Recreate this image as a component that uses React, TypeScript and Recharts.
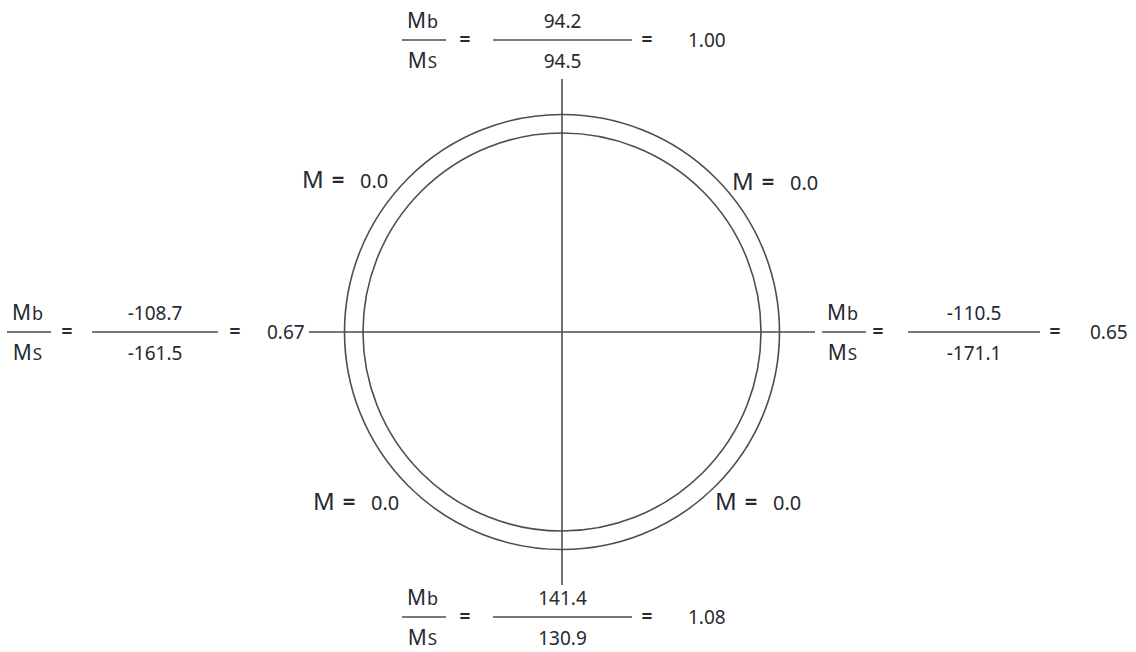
import { RadarChart, PolarGrid, Customized } from 'recharts';

// bending moment ratio at the four quadrant points of the pipe section
const sides = ['top', 'right', 'bottom', 'left'];
const mbValues = [94.2, -110.5, 141.4, -108.7];
const msValues = [94.5, -171.1, 130.9, -161.5];
const ratioValues = [1.0, 0.65, 1.08, 0.67];

// moments at the diagonal points
const corners = ['top-left', 'top-right', 'bottom-left', 'bottom-right'];
const cornerMoments = [0.0, 0.0, 0.0, 0.0];

const WIDTH = 1136;
const HEIGHT = 652;
const CX = 562;
const CY = 332;
const AXIS_REACH = 253;
const RING_RADII = [199, 217.5];
const CROSS_ANGLES = [0, 90, 180, 270];

const INK = '#262a31';
const LINE = '#4d4d4d';
const FONT = '"Noto Sans", "Open Sans", sans-serif';

const BLOCKS: Record<string, { x0: number; yc: number; eq1: number; l1: number; l2: number; eq2: number; rx: number }> = {
    top: { x0: 402, yc: 40, eq1: 465, l1: 493, l2: 632, eq2: 647, rx: 688 },
    bottom: { x0: 402, yc: 617, eq1: 465, l1: 493, l2: 632, eq2: 647, rx: 688 },
    left: { x0: 7, yc: 332, eq1: 67, l1: 92, l2: 218, eq2: 235, rx: 267 },
    right: { x0: 822, yc: 332, eq1: 878, l1: 908, l2: 1040, eq2: 1055, rx: 1090 },
};

const CORNER_POS: Record<string, { x: number; y: number }> = {
    'top-left': { x: 302, y: 180 },
    'top-right': { x: 732, y: 182 },
    'bottom-left': { x: 313, y: 502 },
    'bottom-right': { x: 715, y: 502 },
};

function RatioBlock({ side, i }: { side: string; i: number }) {
    const b = BLOCKS[side];
    const mid = (b.l1 + b.l2) / 2;
    const txt = { fill: INK, fontFamily: FONT };
    const up = b.yc - 19 + 7;
    const down = b.yc + 21 + 7;
    return (
        <g>
            <text {...txt} x={b.x0 + 21} y={up} fontSize={21} textAnchor="middle" letterSpacing={1}>
                M<tspan fontSize={18}>b</tspan>
            </text>
            <line x1={b.x0} x2={b.x0 + 44} y1={b.yc} y2={b.yc} stroke={LINE} strokeWidth={1.5} />
            <text {...txt} x={b.x0 + 21} y={down} fontSize={21} textAnchor="middle" letterSpacing={1}>
                M<tspan fontSize={17}>S</tspan>
            </text>
            <text {...txt} x={b.eq1} y={b.yc + 6} fontSize={19} fontWeight={700} textAnchor="middle">=</text>
            <text {...txt} x={mid} y={up} fontSize={19} textAnchor="middle">{mbValues[i].toFixed(1)}</text>
            <line x1={b.l1} x2={b.l2} y1={b.yc} y2={b.yc} stroke={LINE} strokeWidth={1.5} />
            <text {...txt} x={mid} y={down} fontSize={19} textAnchor="middle">{msValues[i].toFixed(1)}</text>
            <text {...txt} x={b.eq2} y={b.yc + 6} fontSize={19} fontWeight={700} textAnchor="middle">=</text>
            <text {...txt} x={b.rx} y={b.yc + 7} fontSize={19}>{ratioValues[i].toFixed(2)}</text>
        </g>
    );
}

function Labels() {
    return (
        <g>
            {sides.map((s, i) => (
                <RatioBlock key={s} side={s} i={i} />
            ))}
            {corners.map((c, i) => {
                const p = CORNER_POS[c];
                const base = p.y + 8;
                return (
                    <g key={c} fill={INK} fontFamily={FONT}>
                        <text x={p.x} y={base} fontSize={24}>M</text>
                        <text x={p.x + 36} y={base - 1} fontSize={22} fontWeight={700} textAnchor="middle">=</text>
                        <text x={p.x + 58} y={base} fontSize={20}>{cornerMoments[i].toFixed(1)}</text>
                    </g>
                );
            })}
        </g>
    );
}

export default function App() {
    return (
        <div style={{ position: 'absolute', left: 0, top: 0, width: WIDTH, height: HEIGHT, background: '#fff' }}>
            <RadarChart
                width={WIDTH}
                height={HEIGHT}
                cx={CX}
                cy={CY}
                outerRadius={AXIS_REACH}
                margin={{ top: 0, right: 0, bottom: 0, left: 0 }}
            >
                <PolarGrid
                    gridType="circle"
                    polarAngles={CROSS_ANGLES}
                    polarRadius={RING_RADII}
                    stroke={LINE}
                    strokeWidth={1.6}
                />
                <Customized component={Labels} />
            </RadarChart>
        </div>
    );
}
